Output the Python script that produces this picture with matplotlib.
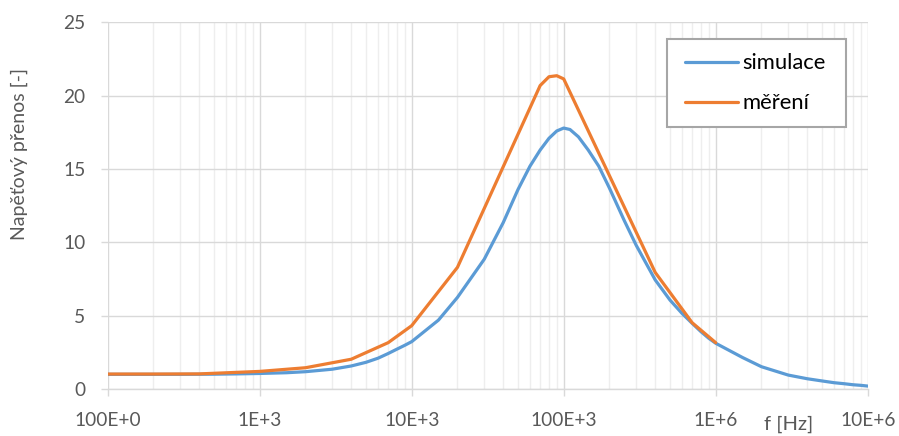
import matplotlib.pyplot as plt
import numpy as np
from matplotlib.patches import Rectangle
from matplotlib.ticker import LogLocator, NullFormatter

plt.rcParams['font.family'] = ['Lato', 'DejaVu Sans']

# simulace (hladká křivka)
f_sim = [100, 200, 300, 500, 700, 1e3, 1.5e3, 2e3, 3e3, 4e3, 5e3, 6e3, 7e3, 8e3, 9e3,
         1e4, 1.5e4, 2e4, 3e4, 4e4, 5e4, 6e4, 7e4, 8e4, 9e4, 1e5, 1.1e5, 1.25e5, 1.45e5,
         1.7e5, 2e5, 2.5e5, 3e5, 4e5, 5e5, 6e5, 7e5, 8e5, 9e5, 1e6, 1.5e6, 2e6, 3e6,
         4e6, 5e6, 6e6, 7e6, 8e6, 9e6, 1e7]
h_sim = [1.0, 1.0, 1.0, 1.01, 1.03, 1.06, 1.11, 1.18, 1.35, 1.57, 1.82, 2.1, 2.42,
         2.72, 2.98, 3.23, 4.7, 6.25, 8.85, 11.35, 13.6, 15.2, 16.3, 17.1, 17.6,
         17.8, 17.7, 17.2, 16.3, 15.2, 13.7, 11.5, 9.8, 7.44, 6.07, 5.16, 4.48, 3.91,
         3.46, 3.12, 2.15, 1.52, 0.95, 0.70, 0.55, 0.43, 0.36, 0.29, 0.25, 0.2]

# měření
f_mer = [100, 200, 400, 1e3, 2e3, 4e3, 7e3, 1e4, 2e4, 7e4, 8e4, 9e4, 1e5, 4e5, 7e5, 1e6]
h_mer = [1.02, 1.02, 1.03, 1.2, 1.45, 2.03, 3.16, 4.32, 8.3, 20.7, 21.3, 21.37, 21.15,
         7.95, 4.52, 3.16]

x_ticks = [1e2, 1e3, 1e4, 1e5, 1e6, 1e7]
x_labels = ['100E+0', '1E+3', '10E+3', '100E+3', '1E+6', '10E+6']
y_ticks = [0, 5, 10, 15, 20, 25]

text_c = '#595959'
grid_major = '#d9d9d9'
grid_minor = '#eeeeee'

fig = plt.figure(figsize=(8.99, 4.36), dpi=100)
ax = fig.add_axes([0.1198, 0.1078, 0.8454, 0.8406])

ax.plot(f_sim, h_sim, color='#5B9BD5', lw=2.3, label='simulace', solid_capstyle='round', zorder=3)
ax.plot(f_mer, h_mer, color='#ED7D31', lw=2.3, label='měření', solid_capstyle='round', zorder=4)

ax.set_xscale('log')
ax.set_xlim(1e2, 1e7)
ax.set_ylim(0, 25)
ax.set_xticks(x_ticks)
ax.set_xticklabels(x_labels)
ax.xaxis.set_minor_locator(LogLocator(base=10, subs=np.arange(2, 10)))
ax.xaxis.set_minor_formatter(NullFormatter())
ax.set_yticks(y_ticks)

ax.grid(True, which='major', color=grid_major, lw=1.0, zorder=0)
ax.grid(True, which='minor', axis='x', color=grid_minor, lw=1.0, zorder=0)
ax.set_axisbelow(True)

for s in ['top', 'right', 'left']:
    ax.spines[s].set_visible(False)
ax.spines['bottom'].set_color(grid_major)
ax.spines['bottom'].set_linewidth(1.0)

ax.tick_params(axis='both', which='major', colors=grid_major, length=5, width=1.0,
               labelcolor=text_c, labelsize=13.8)
ax.tick_params(axis='x', which='minor', length=0)
ax.tick_params(axis='x', pad=11.5)
ax.tick_params(axis='y', pad=11)

fig.text(19 / 899, 1 - 154 / 436, 'Napěťový přenos [-]', color=text_c, fontsize=14,
         rotation=90, ha='center', va='center')
fig.text(789 / 899, 1 - 430 / 436, 'f [Hz]', color=text_c, fontsize=14.5,
         ha='center', va='baseline')

# rámeček legendy
box = Rectangle((0.7355, 0.7157), 0.9714 - 0.7355, 0.955 - 0.7157, transform=ax.transAxes,
                facecolor='white', edgecolor='#a6a6a6', lw=1.5, zorder=5, clip_on=False)
ax.add_patch(box)

leg = ax.legend(loc='upper left', bbox_to_anchor=(0.7408, 0.955), frameon=False,
                fontsize=15.8, handlelength=2.4, labelspacing=0.92, borderpad=0.65,
                handletextpad=0.22, borderaxespad=0)
leg.set_zorder(6)
for t in leg.get_texts():
    t.set_color('black')

fig.savefig('out.png', dpi=100)
